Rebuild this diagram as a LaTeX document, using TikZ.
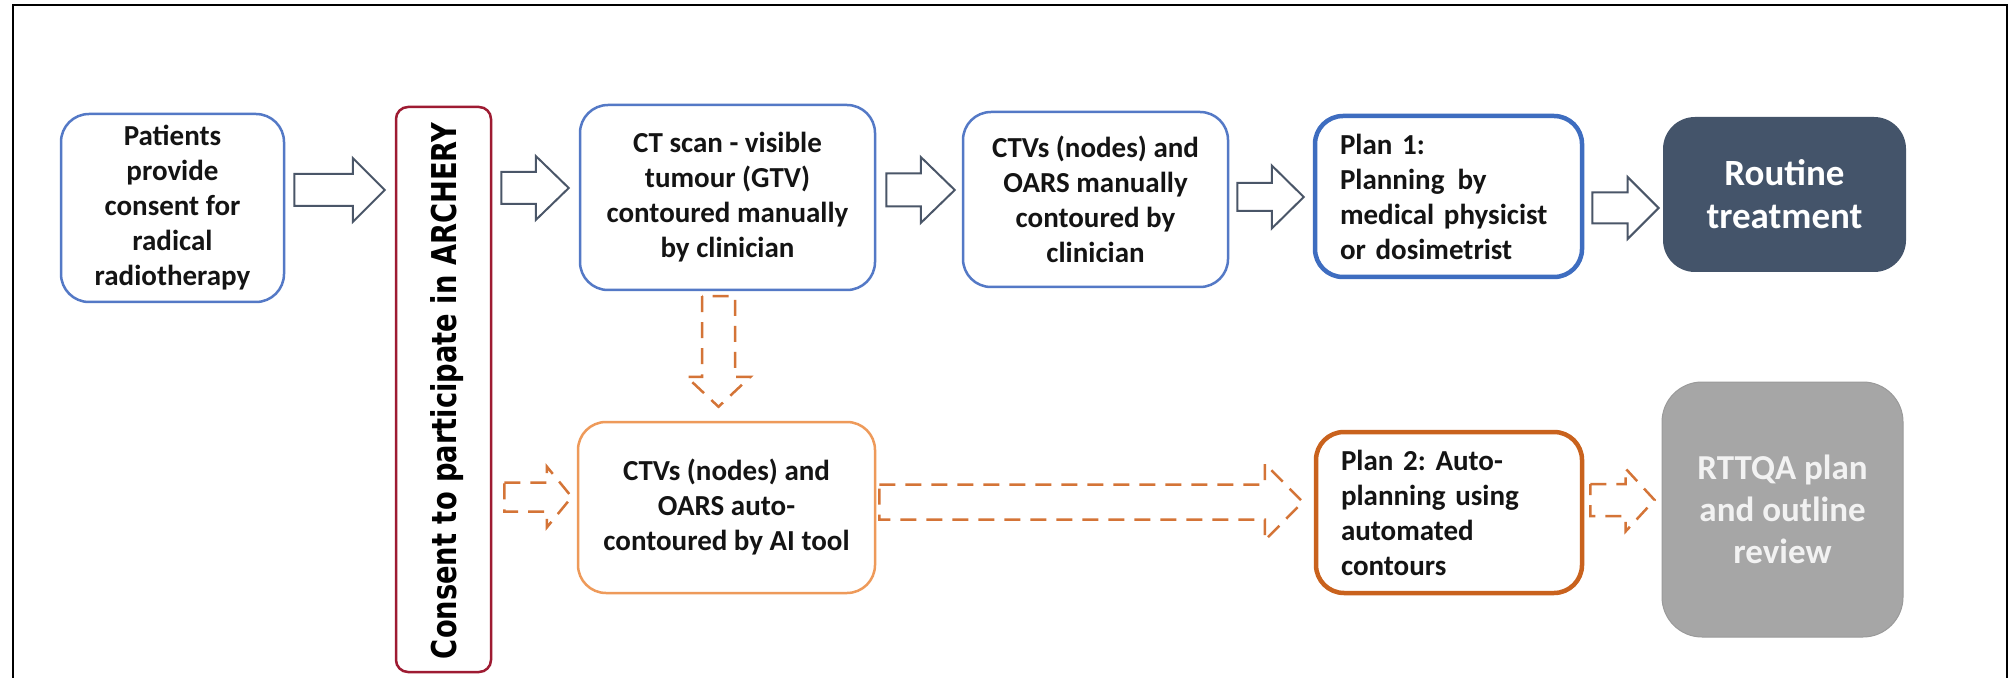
\documentclass[tikz,border=0pt]{standalone}
\usepackage{graphicx}
\usepackage{fontspec}
\setmainfont{Carlito}
\newfontfamily\consentfont{DejaVu Sans}
\usetikzlibrary{calc}
\frenchspacing

\definecolor{boxblue}{HTML}{5479C6}
\definecolor{planblue}{HTML}{3E6DC0}
\definecolor{consentred}{HTML}{9E1B32}
\definecolor{autoorange}{HTML}{EE9A5A}
\definecolor{planorange}{HTML}{C9621D}
\definecolor{dashorange}{HTML}{D47437}
\definecolor{slate}{HTML}{44546A}
\definecolor{arrowgray}{HTML}{4A5668}
\definecolor{reviewgray}{HTML}{A6A6A6}
\definecolor{reviewedge}{HTML}{9A9A9A}
\definecolor{reviewtext}{HTML}{F2F2F2}

% one unit of the drawing
\newdimen\px \px=0.5pt

% block arrow between two nodes: style, from, to, y, start gap, end gap,
% half shaft height, half head height, head length
\newcommand\blockarrow[9]{%
  \path ($(#2.east |- 0,#4)+(#5,0)$) coordinate (ba-s)
        ($(#3.west |- 0,#4)+(-#6,0)$) coordinate (ba-e);
  \draw[#1] ($(ba-s)+(0,-#7)$) -- ($(ba-e)+(-#9,-#7)$) -- ($(ba-e)+(-#9,-#8)$)
    -- (ba-e) -- ($(ba-e)+(-#9,#8)$) -- ($(ba-e)+(-#9,#7)$)
    -- ($(ba-s)+(0,#7)$) -- cycle;}

\begin{document}
\begin{tikzpicture}[x=0.5pt,y=-0.5pt,
  boxtext/.style={align=center, inner sep=0pt, text=black!92,
    font=\bfseries\fontsize{14.5pt}{17.5pt}\selectfont},
  bluebox/.style={boxtext, draw=boxblue, line width=2.5\px, rounded corners=28\px},
  plan1box/.style={boxtext, draw=planblue, line width=4.5\px, rounded corners=28\px,
    align=left},
  consentbox/.style={draw=consentred, line width=2.5\px, rounded corners=12\px,
    inner sep=0pt},
  autobox/.style={boxtext, draw=autoorange, line width=2.5\px, rounded corners=28\px},
  plan2box/.style={boxtext, draw=planorange, line width=4.5\px, rounded corners=28\px,
    align=left},
  routinebox/.style={fill=slate, text=white, align=center, inner sep=0pt,
    rounded corners=32\px, font=\bfseries\fontsize{18.5pt}{21.5pt}\selectfont},
  reviewbox/.style={fill=reviewgray, draw=reviewedge, line width=1\px, text=reviewtext,
    align=center, inner sep=0pt, rounded corners=40\px,
    font=\bfseries\fontsize{17.5pt}{21pt}\selectfont},
  hollow/.style={draw=arrowgray, line width=2\px, fill=white, line join=miter},
  dasharrow/.style={draw=dashorange, line width=2.5\px, dash pattern=on 8pt off 5pt},
  frame/.style={draw=black, line width=2\px}]

\useasboundingbox (0,0) rectangle (2011,678);
\fill[white] (0,0) rectangle (2011,678);

% outer frame (open at the bottom)
\draw[frame] (13,678) -- (13,5) -- (2007,5) -- (2007,678);

% top row
\node[bluebox, minimum width=223\px, minimum height=188\px] (pat) at (172.5,208)
  {Patients\\provide\\consent for\\radical\\radiotherapy};
\node[consentbox, minimum width=95\px, minimum height=565\px] (consent) at (443.5,389.5) {};
\node[rotate=90, anchor=base, inner sep=0pt,
  font=\consentfont\bfseries\fontsize{17.1pt}{20pt}\selectfont] (consenttext) at (456,391)
  {\resizebox{268pt}{\height}{Consent to participate in ARCHERY}};
\node[bluebox, minimum width=295\px, minimum height=185\px] (ct) at (727.5,197.5)
  {CT scan - visible\\tumour (GTV)\\contoured manually\\by clinician};
\node[bluebox, minimum width=265\px, minimum height=175\px] (ctvm) at (1095.5,199.5)
  {CTVs (nodes) and\\OARS manually\\contoured by\\clinician};
\node[plan1box, minimum width=267\px, minimum height=161\px, text width=217\px] (plan1)
  at (1448.5,196.5) {Plan 1:\\Planning\hspace{0.45em}by\\medical physicist\\or dosimetrist};
\node[routinebox, minimum width=243\px, minimum height=155\px] (routine) at (1784.5,194.5)
  {Routine\\treatment};

% bottom row
\node[autobox, minimum width=297\px, minimum height=171\px] (auto) at (726.5,507.5)
  {CTVs (nodes) and\\OARS auto-\\contoured by AI tool};
\node[plan2box, minimum width=266\px, minimum height=161\px, text width=216\px] (plan2)
  at (1449,512.5) {Plan 2: Auto-\\planning using\\automated\\contours};
\node[reviewbox, minimum width=241\px, minimum height=255\px] (rttqa) at (1782.5,509.5)
  {RTTQA plan\\and outline\\review};

% solid block arrows
\blockarrow{hollow}{pat}{consent}{190}{9}{10}{16}{32}{32}
\blockarrow{hollow}{consent}{ct}{188}{9}{10}{16}{32}{33}
\blockarrow{hollow}{ct}{ctvm}{190}{10}{7}{16.5}{33}{34}
\blockarrow{hollow}{ctvm}{plan1}{197}{8}{9}{14}{31.5}{32}
\blockarrow{hollow}{plan1}{routine}{208}{8}{4}{15.5}{31}{31}

% dashed block arrows
\blockarrow{dasharrow}{consent}{auto}{497}{12}{5}{14.5}{30.5}{25}
\blockarrow{dasharrow}{auto}{plan2}{502}{3}{11}{17.5}{38.5}{38}
\blockarrow{dasharrow}{plan2}{rttqa}{500}{6}{7}{16}{31.5}{29}

% dashed arrow down from the CT box
\path ($(ct.south -| 718.5,0)+(0,5)$) coordinate (d-s)
      ($(auto.north -| 718.5,0)+(0,-14)$) coordinate (d-e);
\draw[dasharrow] ($(d-s)+(-16.5,0)$) -- ($(d-e)+(-16.5,-30)$) -- ($(d-e)+(-32,-30)$)
  -- (d-e) -- ($(d-e)+(32,-30)$) -- ($(d-e)+(16.5,-30)$) -- ($(d-s)+(16.5,0)$) -- cycle;

\end{tikzpicture}
\end{document}
